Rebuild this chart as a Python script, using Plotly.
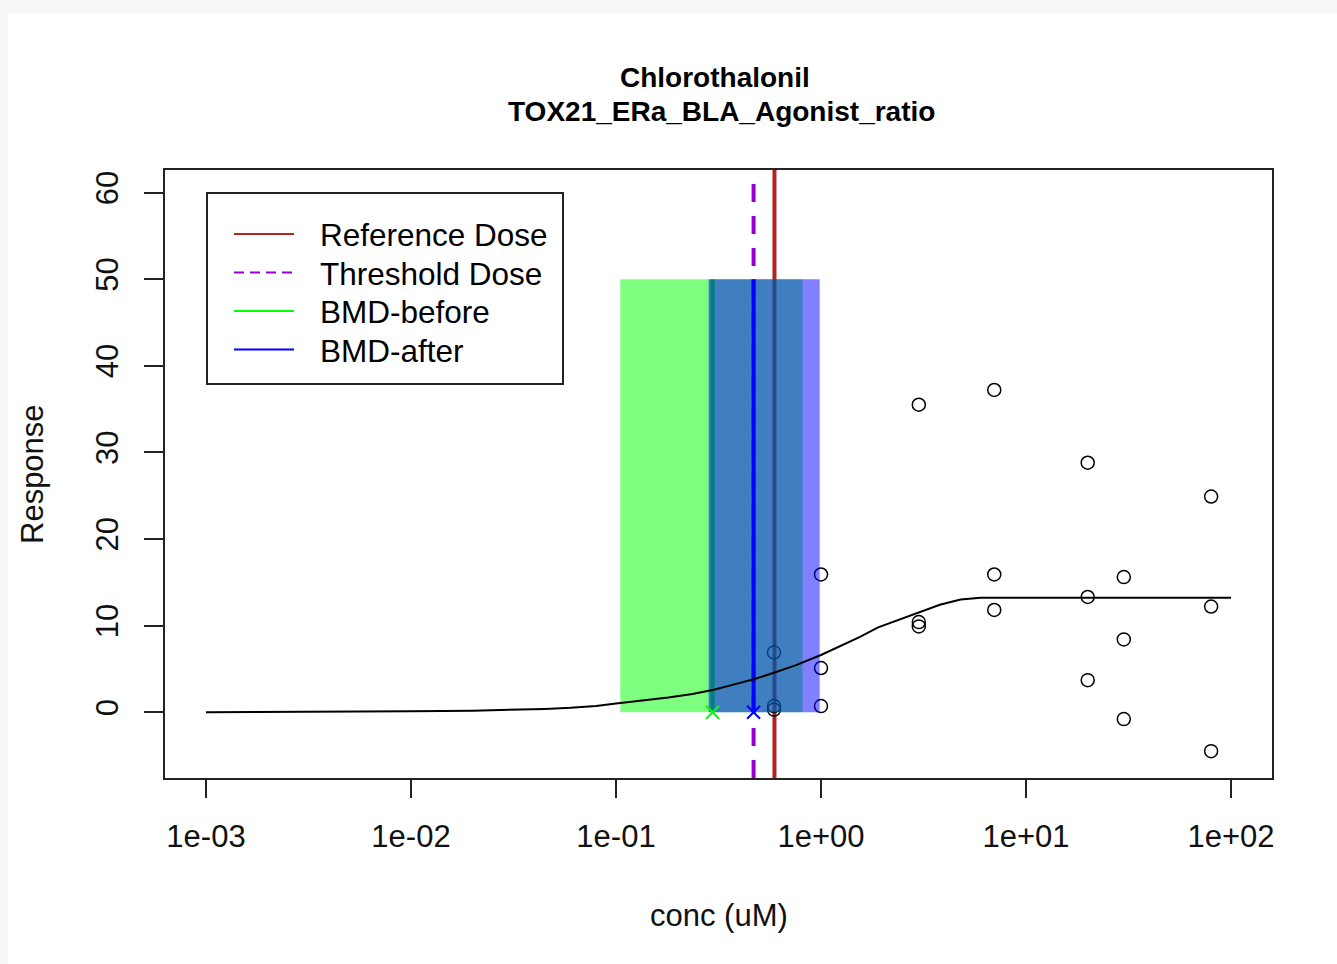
import plotly.graph_objects as go

# ---------------- data ----------------
title_lines = ["Chlorothalonil", "TOX21_ERa_BLA_Agonist_ratio"]
x_label = "conc (uM)"
y_label = "Response"

x_tickvals = [1e-3, 1e-2, 1e-1, 1e0, 1e1, 1e2]
x_ticktext = ["1e-03", "1e-02", "1e-01", "1e+00", "1e+01", "1e+02"]
y_tickvals = [0, 10, 20, 30, 40, 50, 60]
y_ticktext = ["0", "10", "20", "30", "40", "50", "60"]

point_conc = [0.59, 0.59, 0.59, 1.0, 1.0, 1.0, 3.0, 3.0, 3.0, 7.0, 7.0, 7.0,
              20, 20, 20, 30, 30, 30, 80, 80, 80]
point_resp = [6.9, 0.7, 0.3, 15.9, 5.1, 0.7, 35.5, 10.4, 9.9, 37.2, 15.9, 11.8,
              28.8, 13.3, 3.7, 15.6, 8.4, -0.8, 24.9, 12.2, -4.5]

curve_conc = [0.001, 0.003, 0.01, 0.02, 0.03, 0.045, 0.06, 0.08, 0.1, 0.135, 0.18,
              0.236, 0.3, 0.37, 0.47, 0.58, 0.75, 1.0, 1.27, 1.55, 1.9, 2.4,
              3.0, 3.8, 4.8, 6.0, 100]
curve_resp = [0.0, 0.02, 0.1, 0.17, 0.25, 0.37, 0.5, 0.72, 1.0, 1.33, 1.7,
              2.1, 2.6, 3.15, 3.8, 4.5, 5.4, 6.6, 7.7, 8.7, 9.8, 10.7,
              11.5, 12.4, 13.0, 13.2, 13.2]

reference_dose = 0.593
threshold_dose = 0.469
bmd_before = 0.296
bmd_after = 0.469
bmd_before_ci = [0.105, 0.813]
bmd_after_ci = [0.283, 0.985]
band_y = [0, 50]

legend_labels = ["Reference Dose", "Threshold Dose", "BMD-before", "BMD-after"]
legend_colors = ["#B22222", "#9400D3", "#00FF00", "#0000FF"]
legend_dashes = ["solid", "dash", "solid", "solid"]

x_range_log = [-3.2, 2.2]
y_range = [-7.6, 62.6]

# ---------------- layout geometry (pixels) ----------------
W, H = 1337, 964
L, R, T, B = 165, 1272, 170, 778
FONT = "Liberation Sans, Arial, sans-serif"


def pxx(p):
    return (p - L) / (R - L)


def pxy(p):
    return (B - p) / (B - T)


fig = go.Figure()

# reference dose (full height, under the bands)
fig.add_trace(go.Scatter(x=[reference_dose, reference_dose], y=[y_range[0], y_range[1]],
                         mode="lines", line=dict(color=legend_colors[0], width=4),
                         hoverinfo="skip", showlegend=False))
# threshold dose (dashed, full height)
fig.add_trace(go.Scatter(x=[threshold_dose, threshold_dose], y=[y_range[0], y_range[1]],
                         mode="lines", line=dict(color=legend_colors[1], width=4, dash="18px,14px"),
                         hoverinfo="skip", showlegend=False))
# data points
fig.add_trace(go.Scatter(x=point_conc, y=point_resp, mode="markers",
                         marker=dict(symbol="circle-open", size=13, color="black",
                                     line=dict(width=1.5, color="black")),
                         showlegend=False))
# BMD-before band
fig.add_trace(go.Scatter(x=[bmd_before_ci[0], bmd_before_ci[1], bmd_before_ci[1], bmd_before_ci[0], bmd_before_ci[0]],
                         y=[band_y[0], band_y[0], band_y[1], band_y[1], band_y[0]],
                         mode="lines", fill="toself", fillcolor="rgba(0,255,0,0.5)",
                         line=dict(width=0), hoverinfo="skip", showlegend=False))
fig.add_trace(go.Scatter(x=[bmd_before, bmd_before], y=band_y, mode="lines",
                         line=dict(color=legend_colors[2], width=4),
                         hoverinfo="skip", showlegend=False))
# BMD-after band
fig.add_trace(go.Scatter(x=[bmd_after_ci[0], bmd_after_ci[1], bmd_after_ci[1], bmd_after_ci[0], bmd_after_ci[0]],
                         y=[band_y[0], band_y[0], band_y[1], band_y[1], band_y[0]],
                         mode="lines", fill="toself", fillcolor="rgba(0,0,255,0.5)",
                         line=dict(width=0), hoverinfo="skip", showlegend=False))
fig.add_trace(go.Scatter(x=[bmd_after, bmd_after], y=band_y, mode="lines",
                         line=dict(color=legend_colors[3], width=4),
                         hoverinfo="skip", showlegend=False))
# fitted curve
fig.add_trace(go.Scatter(x=curve_conc, y=curve_resp, mode="lines",
                         line=dict(color="black", width=2), hoverinfo="skip", showlegend=False))
# BMD markers
fig.add_trace(go.Scatter(x=[bmd_before], y=[0], mode="markers",
                         marker=dict(symbol="x-thin-open", size=13, color=legend_colors[2],
                                     line=dict(width=2, color=legend_colors[2])),
                         showlegend=False))
fig.add_trace(go.Scatter(x=[bmd_after], y=[0], mode="markers",
                         marker=dict(symbol="x-thin-open", size=13, color=legend_colors[3],
                                     line=dict(width=2, color=legend_colors[3])),
                         showlegend=False))

shapes = []
# page background strips
shapes.append(dict(type="rect", xref="paper", yref="paper", layer="below",
                   x0=pxx(0), x1=pxx(W), y0=pxy(0), y1=pxy(13),
                   fillcolor="#f7f7f7", line=dict(width=0)))
shapes.append(dict(type="rect", xref="paper", yref="paper", layer="below",
                   x0=pxx(0), x1=pxx(8), y0=pxy(0), y1=pxy(H),
                   fillcolor="#f7f7f7", line=dict(width=0)))
# legend box
shapes.append(dict(type="rect", xref="paper", yref="paper",
                   x0=pxx(207), x1=pxx(563), y0=pxy(384), y1=pxy(193),
                   fillcolor="rgba(0,0,0,0)", line=dict(color="#222222", width=2)))
annotations = []
row_y = [234, 272.5, 311, 349.5]
for lab, col, dsh, yy in zip(legend_labels, legend_colors, legend_dashes, row_y):
    shapes.append(dict(type="line", xref="paper", yref="paper",
                       x0=pxx(234), x1=pxx(294), y0=pxy(yy), y1=pxy(yy),
                       line=dict(color=col, width=2, dash="10px,6px" if dsh == "dash" else "solid")))
    annotations.append(dict(text=lab, xref="paper", yref="paper", x=pxx(318), y=pxy(yy + 1),
                            xanchor="left", yanchor="middle", showarrow=False,
                            font=dict(family=FONT, size=31.5, color="black")))

# titles
annotations.append(dict(text="<b>" + title_lines[0] + "</b>", xref="paper", yref="paper",
                        x=pxx(715), y=pxy(78), xanchor="center", yanchor="middle", showarrow=False,
                        font=dict(family=FONT, size=28, color="black")))
annotations.append(dict(text="<b>" + title_lines[1] + "</b>", xref="paper", yref="paper",
                        x=pxx(721), y=pxy(112), xanchor="center", yanchor="middle", showarrow=False,
                        font=dict(family=FONT, size=28, color="black")))
annotations.append(dict(text=x_label, xref="paper", yref="paper",
                        x=pxx(718.5), y=pxy(915), xanchor="center", yanchor="middle", showarrow=False,
                        font=dict(family=FONT, size=31, color="#111111")))
annotations.append(dict(text=y_label, xref="paper", yref="paper", textangle=-90,
                        x=pxx(32), y=pxy(474), xanchor="center", yanchor="middle", showarrow=False,
                        font=dict(family=FONT, size=31, color="#111111")))

fig.update_layout(
    width=W, height=H,
    margin=dict(l=L, r=W - R, t=T, b=H - B, pad=0),
    paper_bgcolor="white", plot_bgcolor="white",
    showlegend=False,
    shapes=shapes, annotations=annotations,
    font=dict(family=FONT, size=31, color="#111111"),
)
fig.update_xaxes(type="log", range=x_range_log, tickvals=x_tickvals, ticktext=x_ticktext,
                 showgrid=False, zeroline=False, showline=True, mirror=True,
                 linecolor="#222222", linewidth=2, ticks="outside", ticklen=18, tickwidth=2,
                 tickcolor="#222222", ticklabelstandoff=12,
                 tickfont=dict(family=FONT, size=31, color="#111111"))
fig.update_yaxes(range=y_range, tickvals=y_tickvals, ticktext=y_ticktext, tickangle=-90,
                 showgrid=False, zeroline=False, showline=True, mirror=True,
                 linecolor="#222222", linewidth=2, ticks="outside", ticklen=19, tickwidth=2,
                 tickcolor="#222222", ticklabelstandoff=14,
                 tickfont=dict(family=FONT, size=31, color="#111111"))

fig.write_html("out.html")
